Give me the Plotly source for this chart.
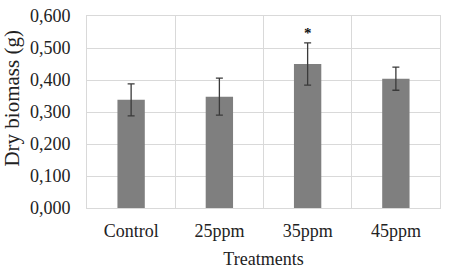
import plotly.graph_objects as go

categories = ["Control", "25ppm", "35ppm", "45ppm"]
biomass = [0.338, 0.348, 0.450, 0.404]
errors = [0.050, 0.058, 0.066, 0.036]
significance = ["", "", "*", ""]
y_ticks = [0.0, 0.1, 0.2, 0.3, 0.4, 0.5, 0.6]

FONT = "Liberation Serif, Times New Roman, serif"

fig = go.Figure()
fig.add_trace(go.Bar(
    x=categories, y=biomass,
    marker=dict(color="#7f7f7f", line=dict(width=0)),
    width=0.31,
    error_y=dict(type="data", array=errors, visible=True,
                 color="#3a3a3a", thickness=1.3, width=3.5),
))

for c, v, e, s in zip(categories, biomass, errors, significance):
    if s:
        fig.add_annotation(x=c, y=v + e, text="<b>" + s + "</b>", showarrow=False,
                           yanchor="bottom", yshift=0,
                           font=dict(family=FONT, size=15, color="#111"))

# y-axis title (placed as an annotation to match the reference's offset)
fig.add_annotation(xref="paper", yref="paper", x=0, y=0.57, xshift=-75,
                   text="Dry biomass (g)", textangle=-90, showarrow=False,
                   xanchor="center", yanchor="middle",
                   font=dict(family=FONT, size=21, color="#222"))

fig.update_layout(
    width=451, height=273,
    margin=dict(l=87, r=11, t=16, b=65, autoexpand=False),
    paper_bgcolor="white", plot_bgcolor="white",
    separators=",.",
    showlegend=False,
    font=dict(family=FONT, size=18, color="#222"),
    xaxis=dict(
        automargin=False,
        tickson="boundaries", showgrid=True, gridcolor="#d9d9d9", gridwidth=1,
        showline=True, mirror=True, linecolor="#d9d9d9", linewidth=1,
        ticks="", ticklen=0, tickfont=dict(size=18), ticklabelstandoff=6,
        title=dict(text="Treatments", font=dict(size=18), standoff=12),
    ),
    yaxis=dict(
        automargin=False,
        range=[0, 0.6], tickvals=y_ticks, tickformat=".3f",
        showgrid=True, gridcolor="#d9d9d9", gridwidth=1,
        showline=True, mirror=True, linecolor="#d9d9d9", linewidth=1,
        zeroline=False, ticks="", tickfont=dict(size=18), ticklabelstandoff=12,
    ),
)

fig.write_html("out.html", config={"displayModeBar": False},
               post_script="document.body.style.margin='0';")
